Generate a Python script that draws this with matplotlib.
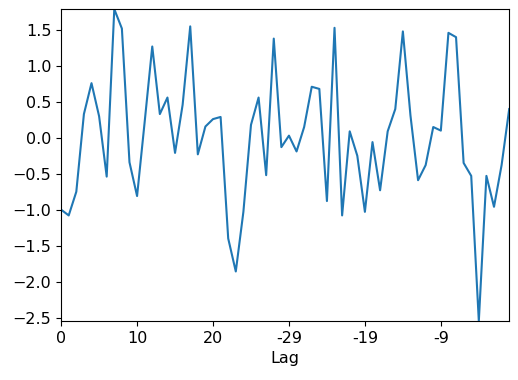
import matplotlib
matplotlib.use("Agg")
import matplotlib.pyplot as plt
import numpy as np

lags = list(range(60))
values = [-1.00, -1.08, -0.75, 0.33, 0.76, 0.30, -0.54, 1.79, 1.52, -0.34,
          -0.81, 0.22, 1.27, 0.33, 0.56, -0.21, 0.46, 1.55, -0.23, 0.157,
          0.26, 0.29, -1.40, -1.86, -1.03, 0.18, 0.56, -0.52, 1.38, -0.13,
          0.03, -0.19, 0.15, 0.71, 0.68, -0.88, 1.53, -1.08, 0.09, -0.25,
          -1.03, -0.06, -0.73, 0.09, 0.40, 1.48, 0.31, -0.59, -0.38, 0.15,
          0.10, 1.46, 1.40, -0.35, -0.53, -2.55, -0.53, -0.96, -0.38, 0.40]
tick_pos = [0, 10, 20, 30, 40, 50]
tick_labels = ["0", "10", "20", "-29", "-19", "-9"]

plt.rcParams['font.size'] = 11.5
fig = plt.figure(figsize=(5.18, 3.8), dpi=100)
ax = fig.add_axes([0.118, 0.155, 0.865, 0.821])
ax.plot(lags, values, color="#1f77b4", linewidth=1.5)
ax.set_xlim(lags[0], lags[-1])
ax.set_ylim(min(values), max(values))
ax.set_xticks(tick_pos)
ax.set_xticklabels(tick_labels)
ax.set_yticks([-2.5, -2.0, -1.5, -1.0, -0.5, 0.0, 0.5, 1.0, 1.5])
ax.set_xlabel("Lag")
fig.savefig("out.png", dpi=100)
